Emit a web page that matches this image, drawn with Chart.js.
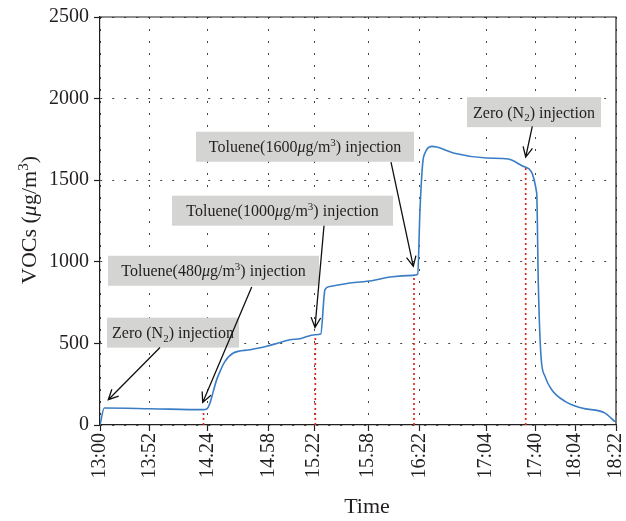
<!DOCTYPE html>
<html>
<head>
<meta charset="utf-8">
<script src="https://cdn.jsdelivr.net/npm/chart.js@4/dist/chart.umd.min.js"></script>
<style>
  html, body { margin: 0; padding: 0; background: #fff; }
  #wrap { width: 626px; height: 521px; }
</style>
</head>
<body>
<div id="wrap"><canvas id="c" width="626" height="521"></canvas></div>
<script>
// Time axis is laid out by sample number, so the clock labels are unevenly spaced.
const sampleIndex = [0, 4.3, 50, 103.3, 106.7, 110, 113.3, 116.7, 120, 125, 133.3, 150, 166.7, 180, 190, 200, 215, 220.7,
  225, 230, 250, 271.7, 290, 313.3, 317.7, 320, 322.7, 325, 331.7, 336.7, 353.3, 386.7, 408.3, 425, 436.7,
  438.3, 441, 445, 451.7, 465, 481.7, 505, 515];
const vocs = [0, 104, 100, 94, 98, 135, 206, 278, 328, 390, 441, 461, 482, 506, 522, 529, 553, 557,
  829, 849, 870, 884, 907, 917, 925, 1320, 1605, 1667, 1707, 1703, 1667, 1636, 1630, 1581, 1421,
  870, 420, 298, 216, 145, 104, 73, 20];

const tickIndex = [0, 49.5, 107.7, 168.3, 214.2, 268, 319.5, 386, 435.8, 475, 516];
const tickLabels = ['13:00', '13:52', '14.24', '14.58', '15.22', '15.58', '16:22', '17:04', '17:40', '18:04', '18:22'];
const yTicks = [0, 500, 1000, 1500, 2000, 2500];

// Moments when the inlet gas was switched, and the reading at that moment
const injectionIndex = [103.5, 215.3, 314, 425.7];
const injectionLevel = [94, 547, 920, 1581];

// Callouts: box centre and arrow tail/head in data units (sample, µg/m3); box width in px
const callouts = [
  { text: 'Zero (N<sub>2</sub>) injection', box: [73, 566], w: 132, tail: [60, 475], head: [8.3, 155] },
  { text: 'Toluene(480<i>μ</i>g/m<sup>3</sup>) injection', box: [113.5, 945], w: 211, tail: [151.7, 846], head: [102.7, 138] },
  { text: 'Toluene(1000<i>μ</i>g/m<sup>3</sup>) injection', box: [182.5, 1313], w: 221, tail: [224, 1221], head: [215, 598] },
  { text: 'Toluene(1600<i>μ</i>g/m<sup>3</sup>) injection', box: [205, 1705], w: 218, tail: [291, 1611], head: [313.3, 972] },
  { text: 'Zero (N<sub>2</sub>) injection', box: [434, 1917], w: 134, tail: [432.3, 1830], head: [425.7, 1642] }
];

const FONT = 'Liberation Serif';
const INK = '#231f20';

function parseRich(s) {
  const segs = [];
  const re = /<(i|sub|sup)>(.*?)<\/\1>|([^<]+)/g;
  let m;
  while ((m = re.exec(s))) {
    if (m[3]) segs.push({ t: m[3], k: 'n' });
    else segs.push({ t: m[2], k: m[1] });
  }
  return segs;
}
function segFont(k, size) {
  if (k === 'i') return `italic ${size}px "${FONT}"`;
  if (k === 'sub' || k === 'sup') return `${Math.round(size * 0.68)}px "${FONT}"`;
  return `${size}px "${FONT}"`;
}
function richWidth(ctx, segs, size) {
  let w = 0;
  for (const s of segs) { ctx.font = segFont(s.k, size); w += ctx.measureText(s.t).width; }
  return w;
}
function drawRich(ctx, segs, x, y, size) {
  ctx.textBaseline = 'alphabetic';
  ctx.textAlign = 'left';
  for (const s of segs) {
    ctx.font = segFont(s.k, size);
    let dy = 0;
    if (s.k === 'sub') dy = size * 0.22;
    if (s.k === 'sup') dy = -size * 0.38;
    ctx.fillText(s.t, x, y + dy);
    x += ctx.measureText(s.t).width;
  }
}

const decor = {
  id: 'decor',
  afterDatasetsDraw(chart) {
    const { ctx, chartArea: a, scales: { x, y } } = chart;
    ctx.save();
    // frame on top and right
    ctx.strokeStyle = INK;
    ctx.lineWidth = 1.2;
    ctx.beginPath();
    ctx.moveTo(a.left, a.top);
    ctx.lineTo(a.right, a.top);
    ctx.lineTo(a.right, a.bottom);
    ctx.stroke();

    // callouts
    const size = 16;
    for (const c of callouts) {
      const segs = parseRich(c.text);
      const tw = richWidth(ctx, segs, size);
      const w = c.w, h = 30;
      const cx = x.getPixelForValue(c.box[0]);
      const cy = y.getPixelForValue(c.box[1]);
      ctx.fillStyle = '#d4d4d3';
      ctx.fillRect(cx - w / 2, cy - h / 2, w, h);
      ctx.fillStyle = INK;
      drawRich(ctx, segs, cx - tw / 2, cy + 5.5, size);

      const tx = x.getPixelForValue(c.tail[0]), ty = y.getPixelForValue(c.tail[1]);
      const hx = x.getPixelForValue(c.head[0]), hy = y.getPixelForValue(c.head[1]);
      ctx.strokeStyle = '#111';
      ctx.lineWidth = 1.3;
      ctx.beginPath();
      ctx.moveTo(tx, ty);
      ctx.lineTo(hx, hy);
      const ang = Math.atan2(hy - ty, hx - tx);
      const L = 11, spread = 0.45;
      ctx.moveTo(hx - L * Math.cos(ang - spread), hy - L * Math.sin(ang - spread));
      ctx.lineTo(hx, hy);
      ctx.lineTo(hx - L * Math.cos(ang + spread), hy - L * Math.sin(ang + spread));
      ctx.stroke();
    }

    // axis titles
    ctx.fillStyle = INK;
    ctx.font = `22px "${FONT}"`;
    ctx.textAlign = 'center';
    ctx.textBaseline = 'middle';
    ctx.fillText('Time', 367, 507);

    const ySegs = parseRich('VOCs (<i>μ</i>g/m<sup>3</sup>)');
    const yw = richWidth(ctx, ySegs, 22);
    ctx.translate(36, 220);
    ctx.rotate(-Math.PI / 2);
    drawRich(ctx, ySegs, -yw / 2, 0, 22);
    ctx.restore();
  }
};

const datasets = [{
  data: sampleIndex.map((v, i) => ({ x: v, y: vocs[i] })),
  borderColor: '#3a7dc5',
  borderWidth: 1.6,
  pointRadius: 0,
  cubicInterpolationMode: 'monotone',
  fill: false,
  order: 0
}];
injectionIndex.forEach((v, i) => {
  datasets.push({
    data: [{ x: v, y: 0 }, { x: v, y: injectionLevel[i] }],
    borderColor: '#e3261f',
    borderWidth: 1.7,
    borderDash: [2, 3],
    pointRadius: 0,
    fill: false,
    order: 1
  });
});

new Chart(document.getElementById('c'), {
  type: 'line',
  data: { datasets },
  options: {
    responsive: false,
    animation: false,
    layout: { padding: { top: 17, right: 10, left: 0, bottom: 0 } },
    plugins: { legend: { display: false }, tooltip: { enabled: false } },
    scales: {
      x: {
        type: 'linear',
        min: 0,
        max: 516,
        afterBuildTicks: s => { s.ticks = tickIndex.map(v => ({ value: v })); },
        afterFit: s => { s.height = 96; s.paddingLeft = 0; s.paddingRight = 0; },
        ticks: {
          autoSkip: false,
          minRotation: 90,
          maxRotation: 90,
          padding: 2,
          color: INK,
          font: { family: FONT, size: 20 },
          callback: (v, i) => tickLabels[i]
        },
        grid: { color: '#444', lineWidth: 1, tickLength: 6, tickColor: INK, tickWidth: 1.2 },
        border: { display: true, color: INK, width: 1.2, dash: [2, 10] }
      },
      y: {
        min: 0,
        max: 2500,
        afterBuildTicks: s => { s.ticks = yTicks.map(v => ({ value: v })); },
        afterFit: s => { s.width = 100; s.paddingTop = 0; s.paddingBottom = 0; },
        ticks: {
          padding: 5,
          color: INK,
          font: { family: FONT, size: 20 },
          callback: v => String(v)
        },
        grid: { color: '#444', lineWidth: 1, tickLength: 6, tickColor: INK, tickWidth: 1.2 },
        border: { display: true, color: INK, width: 1.2, dash: [2, 10] }
      }
    }
  },
  plugins: [decor]
});
</script>
</body>
</html>
